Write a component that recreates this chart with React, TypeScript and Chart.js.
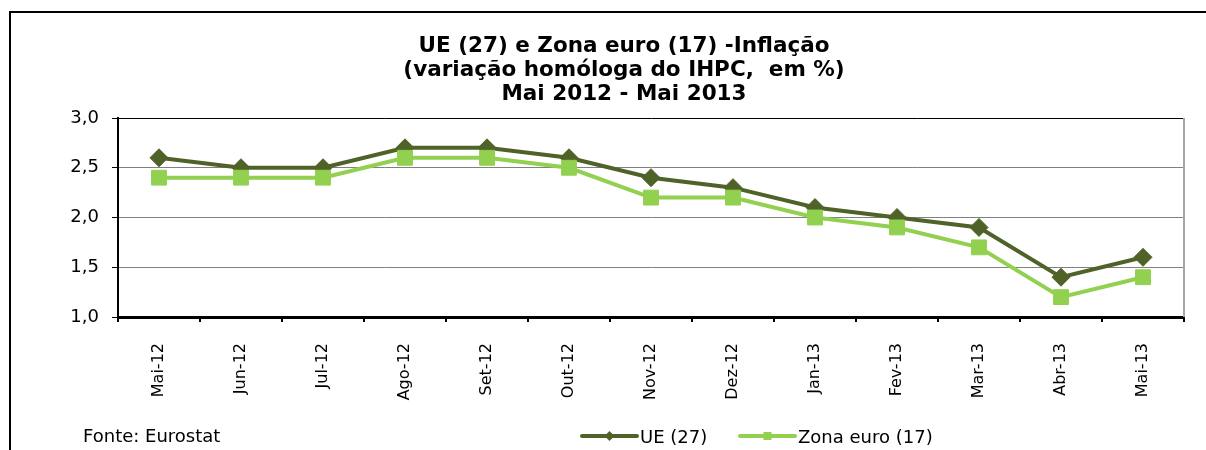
import React, { useEffect, useRef } from "react";
import { Chart, registerables } from "chart.js";

Chart.register(...registerables);

const categories = ["Mai-12", "Jun-12", "Jul-12", "Ago-12", "Set-12", "Out-12", "Nov-12", "Dez-12", "Jan-13", "Fev-13", "Mar-13", "Abr-13", "Mai-13"];
const ueValues = [2.6, 2.5, 2.5, 2.7, 2.7, 2.6, 2.4, 2.3, 2.1, 2.0, 1.9, 1.4, 1.6];
const zonaValues = [2.4, 2.4, 2.4, 2.6, 2.6, 2.5, 2.2, 2.2, 2.0, 1.9, 1.7, 1.2, 1.4];
const titleLines = ["UE (27) e Zona euro (17) -Inflação", "(variação homóloga do IHPC,  em %)", "Mai 2012 - Mai 2013"];
const seriesNames = ["UE (27)", "Zona euro (17)"];
const sourceText = "Fonte: Eurostat";

const DARK = "#4F6228";
const LIGHT = "#92D050";
const FONT = "'DejaVu Sans', Verdana, sans-serif";

const decorPlugin = {
  id: "decor",
  afterDraw(chart: any) {
    const ctx = chart.ctx as CanvasRenderingContext2D;
    const area = chart.chartArea;
    ctx.save();
    // outer frame: only its left and top edges fall inside the picture
    ctx.fillStyle = "#000";
    ctx.fillRect(9, 11, 2, 450);
    ctx.fillRect(9, 11, 1197, 2);
    // right plot border
    ctx.strokeStyle = "#A6A6A6";
    ctx.lineWidth = 2;
    ctx.beginPath();
    ctx.moveTo(area.right, area.top);
    ctx.lineTo(area.right, area.bottom);
    ctx.stroke();
    // title
    ctx.fillStyle = "#000";
    ctx.font = `bold 21.5px ${FONT}`;
    ctx.textAlign = "center";
    ctx.textBaseline = "alphabetic";
    titleLines.forEach((t, i) => ctx.fillText(t, 624, 52 + i * 24));
    // source
    ctx.font = `18px ${FONT}`;
    ctx.textAlign = "left";
    ctx.fillText(sourceText, 83, 442);
    // legend
    const items = [
      { x0: 582, x1: 637, color: DARK, style: "diamond", tx: 640, label: seriesNames[0] },
      { x0: 740, x1: 795, color: LIGHT, style: "square", tx: 798, label: seriesNames[1] },
    ];
    items.forEach((it) => {
      const y = 436;
      ctx.strokeStyle = it.color;
      ctx.lineWidth = 4;
      ctx.lineCap = "round";
      ctx.beginPath();
      ctx.moveTo(it.x0, y);
      ctx.lineTo(it.x1, y);
      ctx.stroke();
      const cx = (it.x0 + it.x1) / 2;
      ctx.fillStyle = it.color;
      ctx.beginPath();
      if (it.style === "diamond") {
        ctx.moveTo(cx, y - 5);
        ctx.lineTo(cx + 5, y);
        ctx.lineTo(cx, y + 5);
        ctx.lineTo(cx - 5, y);
        ctx.closePath();
      } else {
        ctx.rect(cx - 4, y - 4, 8, 8);
      }
      ctx.fill();
      ctx.fillStyle = "#000";
      ctx.fillText(it.label, it.tx, 443);
    });
    ctx.restore();
  },
};

export default function App() {
  const ref = useRef<HTMLCanvasElement>(null);
  useEffect(() => {
    if (!ref.current) return;
    const chart = new Chart(ref.current, {
      type: "line",
      data: {
        labels: categories,
        datasets: [
          {
            label: seriesNames[0],
            data: ueValues,
            borderColor: DARK,
            backgroundColor: DARK,
            borderWidth: 4,
            pointStyle: "rectRot",
            pointRadius: 9,
            pointBackgroundColor: DARK,
            pointBorderColor: DARK,
            pointBorderWidth: 1,
            tension: 0,
            order: 2,
          },
          {
            label: seriesNames[1],
            data: zonaValues,
            borderColor: LIGHT,
            backgroundColor: LIGHT,
            borderWidth: 4,
            pointStyle: "rect",
            pointRadius: 10.5,
            pointBackgroundColor: LIGHT,
            pointBorderColor: LIGHT,
            pointBorderWidth: 1,
            tension: 0,
            order: 1,
          },
        ],
      },
      options: {
        responsive: false,
        animation: false,
        events: [],
        layout: { padding: { left: 0, top: 118, right: 22, bottom: 0 } },
        plugins: {
          legend: { display: false },
          title: { display: false },
          tooltip: { enabled: false },
        },
        scales: {
          x: {
            offset: true,
            afterFit: (s: any) => {
              s.height = 133;
            },
            grid: {
              offset: true,
              drawOnChartArea: false,
              drawTicks: true,
              tickLength: 5,
              color: "#000",
              tickColor: "#000",
              lineWidth: 2,
            },
            border: { display: true, color: "#000", width: 3 },
            ticks: {
              maxRotation: 90,
              minRotation: 90,
              autoSkip: false,
              color: "#000",
              padding: 21,
              font: { family: FONT, size: 16 },
            },
          },
          y: {
            min: 1,
            max: 3,
            afterFit: (s: any) => {
              s.width = 118;
            },
            grid: {
              color: (c: any) => (c.tick && c.tick.value === 3 ? "#000" : "#808080"),
              tickColor: "#000",
              tickLength: 6,
              lineWidth: 1,
            },
            border: { display: true, color: "#000", width: 2 },
            ticks: {
              stepSize: 0.5,
              color: "#000",
              padding: 13,
              font: { family: FONT, size: 18 },
              callback: (v: any) => Number(v).toFixed(1).replace(".", ","),
            },
          },
        },
      },
      plugins: [decorPlugin],
    });
    return () => chart.destroy();
  }, []);
  return (
    <div style={{ position: "absolute", left: 0, top: 0, width: 1206, height: 450, background: "#fff" }}>
      <canvas ref={ref} width={1206} height={450} style={{ display: "block" }} />
    </div>
  );
}
